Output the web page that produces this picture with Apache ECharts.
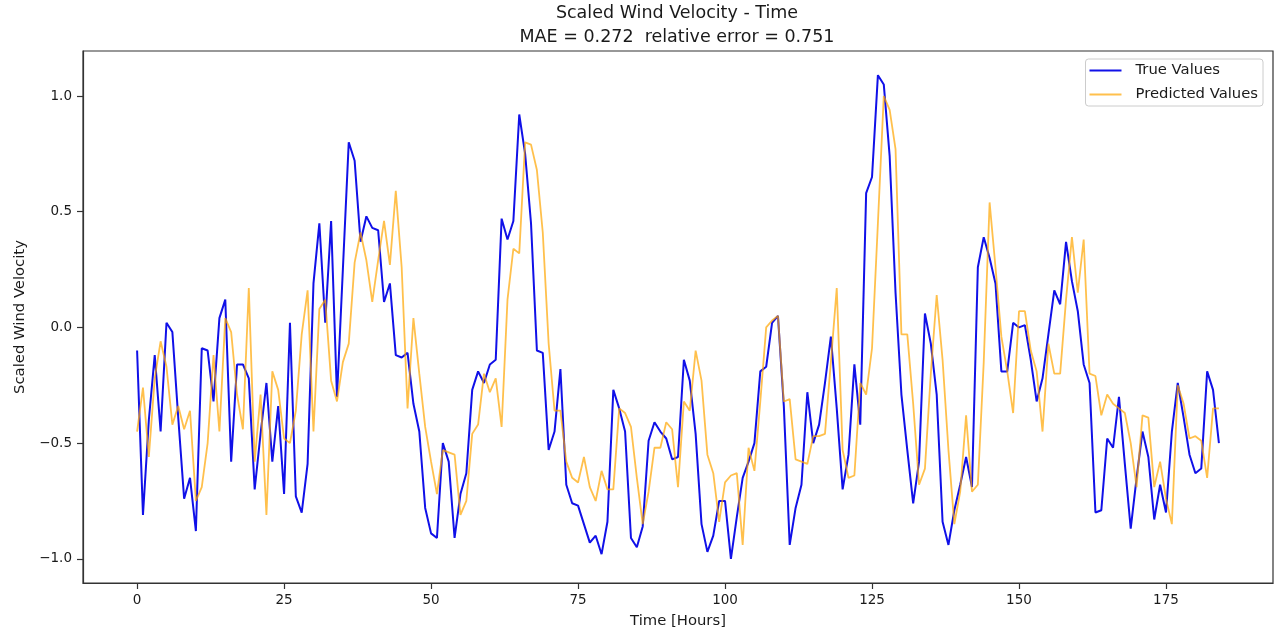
<!DOCTYPE html>
<html>
<head>
<meta charset="utf-8">
<title>Scaled Wind Velocity - Time</title>
<script src="https://cdn.jsdelivr.net/npm/echarts@6/dist/echarts.min.js"></script>
<style>
    html, body { margin: 0; padding: 0; background: #fff; }
    #chart { width: 1276px; height: 636px; }
</style>
</head>
<body>
<div id="chart"></div>
<script>
    // values, one per hour (0..184)
    const trueValues = [
        -0.10, -0.81, -0.40, -0.12, -0.45, 0.02, -0.02, -0.39, -0.74, -0.65,
        -0.88, -0.09, -0.10, -0.32, 0.04, 0.12, -0.58, -0.16, -0.16, -0.22,
        -0.70, -0.46, -0.24, -0.58, -0.34, -0.72, 0.02, -0.73, -0.80, -0.59,
        0.19, 0.45, 0.02, 0.46, -0.30, 0.25, 0.80, 0.72, 0.37, 0.48,
        0.43, 0.42, 0.11, 0.19, -0.12, -0.13, -0.11, -0.33, -0.45, -0.78,
        -0.89, -0.91, -0.50, -0.58, -0.91, -0.72, -0.63, -0.27, -0.19, -0.24,
        -0.16, -0.14, 0.47, 0.38, 0.46, 0.92, 0.75, 0.45, -0.10, -0.11,
        -0.53, -0.45, -0.18, -0.68, -0.76, -0.77, -0.85, -0.93, -0.90, -0.98,
        -0.84, -0.27, -0.35, -0.45, -0.91, -0.95, -0.86, -0.49, -0.41, -0.45,
        -0.48, -0.57, -0.56, -0.14, -0.23, -0.46, -0.85, -0.97, -0.90, -0.75,
        -0.75, -1.00, -0.82, -0.65, -0.58, -0.50, -0.19, -0.17, 0.02, 0.05,
        -0.34, -0.94, -0.78, -0.68, -0.28, -0.50, -0.42, -0.24, -0.04, -0.35,
        -0.70, -0.55, -0.16, -0.42, 0.58, 0.65, 1.09, 1.05, 0.74, 0.15,
        -0.29, -0.53, -0.76, -0.58, 0.06, -0.07, -0.29, -0.84, -0.94, -0.79,
        -0.68, -0.56, -0.69, 0.26, 0.39, 0.30, 0.19, -0.19, -0.19, 0.02,
        0.00, 0.01, -0.14, -0.32, -0.22, -0.03, 0.16, 0.10, 0.37, 0.20,
        0.07, -0.16, -0.24, -0.80, -0.79, -0.48, -0.52, -0.30, -0.59, -0.87,
        -0.65, -0.45, -0.56, -0.83, -0.68, -0.80, -0.45, -0.24, -0.39, -0.55,
        -0.63, -0.61, -0.19, -0.27, -0.50
    ];
    const predictedValues = [
        -0.45, -0.26, -0.56, -0.22, -0.06, -0.17, -0.42, -0.34, -0.44, -0.36,
        -0.75, -0.69, -0.50, -0.12, -0.45, 0.04, -0.02, -0.29, -0.44, 0.17,
        -0.58, -0.29, -0.81, -0.19, -0.27, -0.48, -0.50, -0.36, -0.03, 0.16,
        -0.45, 0.08, 0.12, -0.23, -0.32, -0.15, -0.07, 0.28, 0.41, 0.29,
        0.11, 0.29, 0.46, 0.27, 0.59, 0.26, -0.35, 0.04, -0.20, -0.43,
        -0.58, -0.72, -0.53, -0.54, -0.55, -0.81, -0.75, -0.46, -0.42, -0.20,
        -0.28, -0.22, -0.43, 0.12, 0.34, 0.32, 0.80, 0.79, 0.68, 0.41,
        -0.07, -0.36, -0.36, -0.58, -0.65, -0.67, -0.56, -0.69, -0.75, -0.62,
        -0.70, -0.70, -0.35, -0.37, -0.43, -0.65, -0.85, -0.71, -0.52, -0.52,
        -0.41, -0.44, -0.69, -0.32, -0.36, -0.10, -0.23, -0.55, -0.63, -0.84,
        -0.67, -0.64, -0.63, -0.94, -0.52, -0.62, -0.32, 0.00, 0.03, 0.05,
        -0.32, -0.31, -0.57, -0.58, -0.59, -0.47, -0.47, -0.46, -0.15, 0.17,
        -0.53, -0.65, -0.64, -0.24, -0.29, -0.09, 0.45, 1.00, 0.94, 0.77,
        -0.03, -0.03, -0.33, -0.68, -0.61, -0.20, 0.14, -0.14, -0.53, -0.85,
        -0.71, -0.38, -0.71, -0.68, -0.15, 0.54, 0.26, -0.04, -0.19, -0.37,
        0.07, 0.07, -0.10, -0.19, -0.45, -0.07, -0.20, -0.20, 0.12, 0.39,
        0.15, 0.38, -0.20, -0.21, -0.38, -0.29, -0.33, -0.35, -0.37, -0.50,
        -0.69, -0.38, -0.39, -0.69, -0.58, -0.74, -0.85, -0.25, -0.33, -0.48,
        -0.47, -0.49, -0.65, -0.35, -0.35
    ];
    const xTicks = [0, 25, 50, 75, 100, 125, 150, 175];
    const yTicks = [-1.0, -0.5, 0.0, 0.5, 1.0];

    const FONT = 'DejaVu Sans';
    const TEXT = '#1a1a1a';

    const toPairs = (arr) => arr.map((v, i) => [i, v]);
    const fmtY = (v) => (v < 0 ? '\u2212' : '') + Math.abs(v).toFixed(1);

    const myChart = echarts.init(document.getElementById('chart'));

    const options = {
        animation: false,
        backgroundColor: '#fff',
        title: {
            text: 'Scaled Wind Velocity - Time\nMAE = 0.272  relative error = 0.751',
            left: 677,
            top: 1,
            padding: 0,
            textAlign: 'center',
            textStyle: {
                fontFamily: FONT,
                fontSize: 17.5,
                fontWeight: 'normal',
                lineHeight: 24,
                color: TEXT
            }
        },
        legend: {
            orient: 'vertical',
            right: 13,
            top: 59,
            padding: [4, 5, 4, 4],
            itemGap: 9,
            itemWidth: 32,
            itemHeight: 2,
            icon: 'rect',
            borderColor: '#cccccc',
            borderWidth: 1,
            borderRadius: 3,
            backgroundColor: 'rgba(255,255,255,0.8)',
            textStyle: {
                fontFamily: FONT,
                fontSize: 14.8,
                color: TEXT,
                padding: [0, 0, 0, 9]
            },
            data: ['True Values', 'Predicted Values']
        },
        grid: {
            left: 83,
            right: 3,
            top: 51,
            bottom: 53,
            show: true,
            borderColor: '#333',
            borderWidth: 1.2,
            containLabel: false
        },
        xAxis: {
            type: 'value',
            min: -9.2,
            max: 193.2,
            name: 'Time [Hours]',
            nameLocation: 'middle',
            nameGap: 31,
            nameTextStyle: { fontFamily: FONT, fontSize: 14.8, color: TEXT },
            axisLine: { show: true, onZero: false, lineStyle: { color: '#333', width: 1.2 } },
            axisTick: {
                show: true,
                length: 6,
                customValues: xTicks,
                lineStyle: { color: '#333', width: 1.2 }
            },
            axisLabel: {
                margin: 10,
                customValues: xTicks,
                fontFamily: FONT,
                fontSize: 13.5,
                color: TEXT
            },
            splitLine: { show: false }
        },
        yAxis: {
            type: 'value',
            min: -1.1045,
            max: 1.1945,
            name: 'Scaled Wind Velocity',
            nameLocation: 'middle',
            nameRotate: 90,
            nameGap: 55,
            nameTextStyle: { fontFamily: FONT, fontSize: 14.8, color: TEXT },
            axisLine: { show: true, onZero: false, lineStyle: { color: '#333', width: 1.2 } },
            axisTick: {
                show: true,
                length: 6,
                customValues: yTicks,
                lineStyle: { color: '#333', width: 1.2 }
            },
            axisLabel: {
                margin: 11,
                customValues: yTicks,
                formatter: fmtY,
                fontFamily: FONT,
                fontSize: 13.5,
                color: TEXT
            },
            splitLine: { show: false }
        },
        series: [
            {
                name: 'True Values',
                type: 'line',
                showSymbol: false,
                color: '#1010e8',
                lineStyle: { width: 2, color: '#1010e8' },
                data: toPairs(trueValues)
            },
            {
                name: 'Predicted Values',
                type: 'line',
                showSymbol: false,
                color: 'rgba(255,165,0,0.7)',
                lineStyle: { width: 1.8, color: 'rgba(255,165,0,0.7)' },
                data: toPairs(predictedValues)
            }
        ]
    };

    myChart.setOption(options);
</script>
</body>
</html>
